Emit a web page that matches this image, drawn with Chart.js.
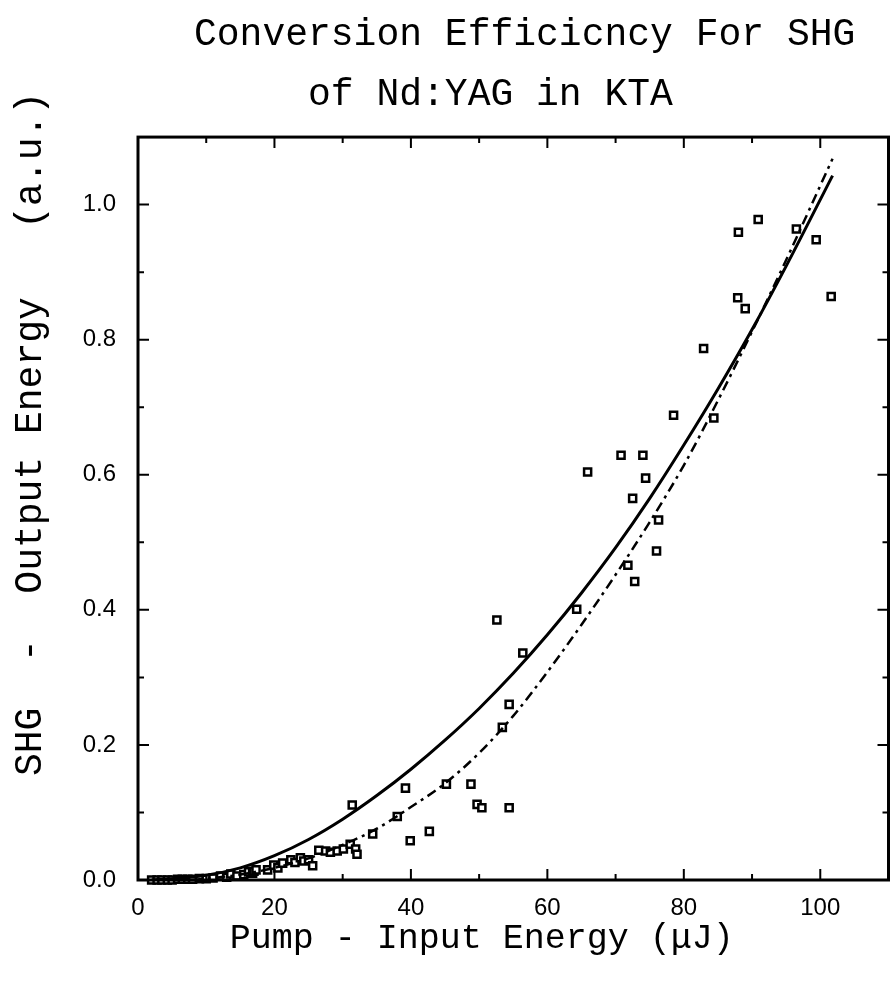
<!DOCTYPE html>
<html lang="en">
<head>
<meta charset="UTF-8">
<title>Conversion Efficicncy For SHG of Nd:YAG in KTA</title>
<script src="https://cdn.jsdelivr.net/npm/chart.js"></script>
<style>
  body { margin: 0; background: #fff; }
</style>
</head>
<body>
<canvas id="shgChart" width="896" height="986"></canvas>
<script>
  // text
  const titleLines = [' Conversion Efficicncy For SHG', 'of Nd:YAG in KTA  '];
  const xTitle = 'Pump - Input Energy (\u03bcJ)   ';
  const yTitle = 'SHG  -  Output Energy   (a.u.)';

  // measured points: pump energy (uJ) and SHG output (a.u.)
  const pumpEnergy = [2.0, 2.8, 3.5, 4.3, 5.0, 5.8, 6.5, 7.3, 8.0, 9.0, 10.0, 11.0, 12.1, 13.0, 13.6, 14.5, 15.5, 16.2, 16.8, 17.0, 17.3,
    19.0, 19.9, 20.5, 21.2, 22.4, 23.0, 23.8, 24.3, 25.0, 25.6, 26.5, 27.5, 28.2, 29.2, 30.1, 31.1, 31.9, 32.1,
    31.4, 34.4, 38.0, 39.2, 39.9, 42.7, 45.2, 48.8, 49.7, 50.4, 52.6, 53.4, 54.4, 54.4, 56.4,
    64.3, 65.9, 70.8, 71.8, 72.5, 72.8, 74.0, 74.4, 76.0, 76.3, 78.5, 82.9, 84.4,
    87.9, 88.0, 89.0, 90.9, 96.5, 99.4, 101.6];
  const shgOutput = [0.000, 0.000, 0.000, 0.000, 0.000, 0.001, 0.001, 0.001, 0.001, 0.002, 0.002, 0.003, 0.006, 0.004, 0.009, 0.006, 0.008, 0.012, 0.010, 0.013, 0.015,
    0.015, 0.022, 0.018, 0.025, 0.030, 0.026, 0.033, 0.028, 0.030, 0.021, 0.044, 0.043, 0.041, 0.043, 0.046, 0.053, 0.046, 0.038,
    0.111, 0.068, 0.094, 0.136, 0.058, 0.072, 0.142, 0.142, 0.112, 0.107, 0.385, 0.226, 0.260, 0.107, 0.336,
    0.401, 0.604, 0.629, 0.466, 0.565, 0.442, 0.629, 0.595, 0.487, 0.533, 0.688, 0.787, 0.684,
    0.862, 0.959, 0.846, 0.978, 0.964, 0.948, 0.864];

  // solid fit curve
  const fitSolidX = [2, 5, 10, 15, 20, 25, 30, 35, 40, 45, 50, 55, 60, 65, 70, 75, 80, 85, 90, 95, 101.8];
  const fitSolidY = [0.000, 0.002, 0.007, 0.018, 0.036, 0.060, 0.090, 0.125, 0.164, 0.207, 0.254, 0.306, 0.363, 0.425, 0.492, 0.565, 0.644, 0.727, 0.815, 0.909, 1.043];

  // dash-dot fit curve
  const fitDashX = [8, 10, 15, 20, 25, 30, 35, 40, 45, 50, 55, 60, 65, 70, 75, 80, 85, 90, 95, 101.8];
  const fitDashY = [0.000, 0.002, 0.008, 0.018, 0.032, 0.052, 0.076, 0.108, 0.143, 0.188, 0.243, 0.308, 0.378, 0.452, 0.530, 0.614, 0.710, 0.812, 0.918, 1.068];

  const toXY = (xs, ys) => xs.map((x, i) => ({ x: x, y: ys[i] }));

  const monoFont = 'Liberation Mono, DejaVu Sans Mono, monospace';
  const tickFont = { family: 'Liberation Sans, Arial, sans-serif', size: 24 };

  // frame, inward ticks on all four sides, rotated y title
  const frameTicks = {
    id: 'frameTicks',
    afterDraw(chart) {
      const { ctx, chartArea: a, scales: { x, y } } = chart;
      ctx.save();
      ctx.strokeStyle = '#000';
      ctx.lineWidth = 3;
      ctx.strokeRect(a.left, a.top, a.right - a.left, a.bottom - a.top);
      ctx.lineWidth = 2;
      ctx.beginPath();
      x.ticks.forEach(t => {
        const px = x.getPixelForValue(t.value);
        const len = Math.round(t.value) % 20 === 0 ? 11 : 6;
        ctx.moveTo(px, a.bottom); ctx.lineTo(px, a.bottom - len);
        ctx.moveTo(px, a.top); ctx.lineTo(px, a.top + len);
      });
      y.ticks.forEach(t => {
        const py = y.getPixelForValue(t.value);
        const len = Math.round(t.value * 10) % 2 === 0 ? 11 : 6;
        ctx.moveTo(a.left, py); ctx.lineTo(a.left + len, py);
        ctx.moveTo(a.right, py); ctx.lineTo(a.right - len, py);
      });
      ctx.stroke();

      ctx.translate(31, 434);
      ctx.rotate(-Math.PI / 2);
      ctx.fillStyle = '#000';
      ctx.font = '38px ' + monoFont;
      ctx.textAlign = 'center';
      ctx.textBaseline = 'middle';
      ctx.fillText(yTitle, 0, 0);
      ctx.restore();
    }
  };

  const ctx = document.getElementById('shgChart').getContext('2d');
  new Chart(ctx, {
    type: 'scatter',
    data: {
      datasets: [
        {
          label: 'fit',
          data: toXY(fitSolidX, fitSolidY),
          showLine: true,
          borderColor: '#000',
          borderWidth: 3,
          pointRadius: 0,
          cubicInterpolationMode: 'monotone'
        },
        {
          label: 'fit 2',
          data: toXY(fitDashX, fitDashY),
          showLine: true,
          borderColor: '#000',
          borderWidth: 2.5,
          borderDash: [10, 5, 3, 5],
          pointRadius: 0,
          cubicInterpolationMode: 'monotone'
        },
        {
          label: 'measured',
          data: toXY(pumpEnergy, shgOutput),
          pointStyle: 'rect',
          pointRadius: 5,
          borderWidth: 2.5,
          borderColor: '#000',
          backgroundColor: '#fff',
          clip: false
        }
      ]
    },
    options: {
      responsive: false,
      animation: false,
      layout: { padding: { right: 7 } },
      plugins: {
        legend: { display: false },
        tooltip: { enabled: false },
        title: {
          display: true,
          fullSize: false,
          text: titleLines,
          color: '#000',
          font: { family: monoFont, size: 38, weight: 'normal', lineHeight: 1.58 },
          padding: { top: 5, bottom: 12 }
        }
      },
      scales: {
        x: {
          type: 'linear',
          min: 0,
          max: 110,
          grid: { display: false },
          border: { display: false },
          ticks: {
            stepSize: 10,
            autoSkip: false,
            maxRotation: 0,
            color: '#000',
            font: tickFont,
            padding: 6,
            callback: v => (Math.round(v) % 20 === 0 && v <= 100 ? String(v) : '')
          },
          title: {
            display: true,
            text: xTitle,
            color: '#000',
            font: { family: monoFont, size: 35 },
            padding: { top: 0, bottom: 26 }
          },
          afterFit: s => { s.height = 106; }
        },
        y: {
          type: 'linear',
          min: 0,
          max: 1.1,
          grid: { display: false },
          border: { display: false },
          ticks: {
            stepSize: 0.1,
            autoSkip: false,
            color: '#000',
            font: tickFont,
            padding: 14,
            callback: v => {
              const k = Math.round(v * 10);
              return k % 2 === 0 && k <= 10 ? (k / 10).toFixed(1) : '';
            }
          },
          afterFit: s => { s.width = 138; }
        }
      }
    },
    plugins: [frameTicks]
  });
</script>
</body>
</html>
